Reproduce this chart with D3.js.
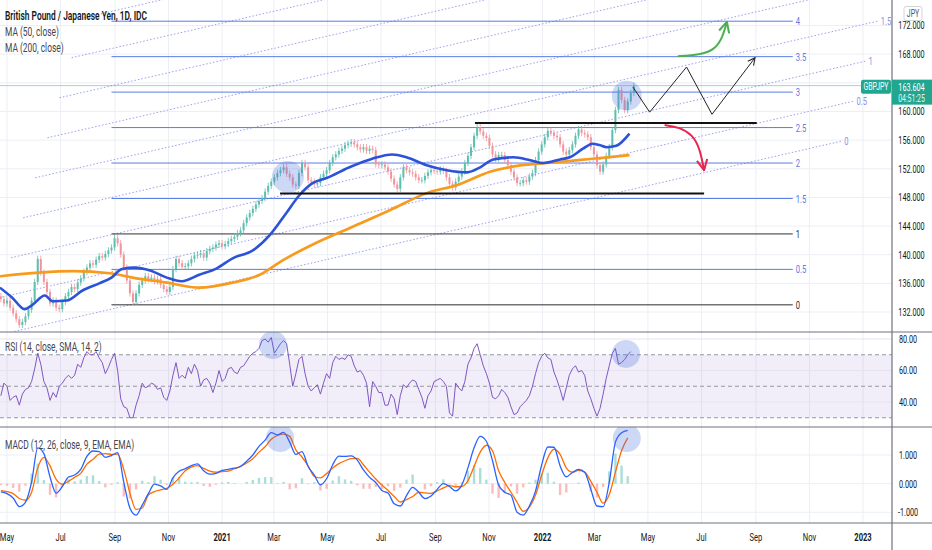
<!DOCTYPE html>
<html>
<head>
<meta charset="utf-8">
<script src="https://cdn.jsdelivr.net/npm/d3@7"></script>
<style>
  body { margin: 0; background: #fff; }
  svg { display: block; font-family: Roboto, "Noto Sans", sans-serif; }
</style>
</head>
<body>
<svg id="chart" width="932" height="550"></svg>
<script>
// ---------- data ----------
// one bar every 3.5 days starting 2020-04-24
const barStartDate = "2020-04-24";
const firstOpen = 134.2;
const closes = [
  133.8, 133.2,
  133.6, 132.6, 131.8, 131.0, 130.2, 130.6, 131.4, 132.3, 133.6, 136.2,
  139.4, 137.5, 136.2, 134.8, 133.2, 133.6, 132.6, 132.4, 133.4, 134.2,
  134.8, 135.5, 135.2, 136.1, 136.7, 137.6, 138.2, 138.8, 138.6, 139.3,
  139.8, 139.6, 140.1, 140.6, 141.0, 142.3, 141.6, 140.0, 138.2, 136.4,
  134.6, 133.4, 134.6, 135.8, 136.4, 137.0, 136.6, 136.8, 136.3, 136.6,
  135.8, 135.2, 134.8, 135.5, 138.0, 139.4, 138.8, 138.3, 138.4, 138.8,
  139.4, 139.9, 140.0, 140.2, 139.6, 140.5, 140.8, 141.0, 141.4, 141.6,
  141.2, 141.5, 141.9, 142.2, 142.5, 143.0, 143.4, 144.4, 145.2, 145.8,
  146.4, 147.0, 147.5, 147.9, 148.8, 149.6, 150.2, 150.8, 151.4, 151.8,
  152.2, 151.3, 150.8, 149.8, 149.6, 151.4, 152.8, 152.2, 150.4, 150.2,
  149.8, 150.0, 150.8, 151.3, 151.8, 152.8, 153.6, 154.0, 154.5, 154.8,
  155.3, 155.5, 155.7, 155.4, 155.0, 154.7, 155.0, 154.5, 154.8, 154.6,
  152.6, 152.5, 152.6, 152.2, 151.6, 150.6, 149.8, 149.2, 150.8, 152.2,
  151.8, 151.5, 151.3, 150.8, 150.4, 150.4, 151.0, 151.5, 151.8, 151.7,
  151.6, 151.9, 151.7, 150.8, 149.9, 149.4, 150.2, 150.9, 151.6, 152.8,
  153.8, 155.0, 156.6, 157.8, 157.2, 156.6, 156.3, 155.2, 154.0, 153.4,
  153.9, 153.9, 153.2, 152.5, 151.6, 150.8, 150.0, 150.0, 150.4, 150.2,
  150.9, 151.4, 153.2, 154.4, 155.4, 156.4, 157.3, 157.0, 156.6, 156.4,
  155.4, 154.4, 154.0, 154.6, 155.4, 156.6, 157.5, 157.0, 156.8, 156.4,
  155.0, 154.0, 152.5, 151.6, 152.6, 153.8, 155.0, 157.4, 160.2, 163.0,
  161.6, 160.2, 161.4, 162.6, 163.6
];
const wick = 0.45;

const ma50 = [
  ["2020-04-23", 135.4], ["2020-05-07", 134.0], ["2020-05-21", 132.4], ["2020-05-30", 133.0],
  ["2020-06-13", 134.3], ["2020-06-22", 133.5], ["2020-07-08", 133.6], ["2020-07-26", 135.0],
  ["2020-08-14", 136.0], ["2020-08-28", 136.8], ["2020-09-09", 138.0], ["2020-09-23", 138.2],
  ["2020-10-11", 137.8], ["2020-10-30", 136.8], ["2020-11-16", 136.3], ["2020-12-06", 137.2],
  ["2020-12-26", 138.1], ["2021-01-13", 139.5], ["2021-02-05", 140.6], ["2021-02-24", 142.7],
  ["2021-03-15", 145.8], ["2021-03-30", 148.3], ["2021-04-14", 150.0], ["2021-04-30", 150.7],
  ["2021-05-26", 152.2], ["2021-06-21", 153.4], ["2021-07-14", 154.0], ["2021-07-30", 153.6],
  ["2021-08-22", 152.5], ["2021-09-14", 151.8], ["2021-10-07", 151.5], ["2021-10-22", 152.2],
  ["2021-11-06", 153.3], ["2021-11-29", 153.6], ["2021-12-18", 153.2], ["2022-01-02", 152.8],
  ["2022-01-21", 153.3], ["2022-02-01", 153.6], ["2022-02-16", 154.8], ["2022-02-27", 155.5],
  ["2022-03-07", 155.3], ["2022-03-15", 155.0], ["2022-03-26", 155.2], ["2022-04-10", 156.9]
];
const ma200 = [
  ["2020-04-23", 137.0], ["2020-06-07", 137.5], ["2020-07-15", 137.7], ["2020-08-26", 137.4],
  ["2020-09-21", 136.8], ["2020-10-30", 136.1], ["2020-12-06", 135.4], ["2021-01-13", 136.1],
  ["2021-02-13", 137.2], ["2021-03-11", 139.2], ["2021-04-19", 141.7], ["2021-05-26", 143.7],
  ["2021-07-11", 146.2], ["2021-08-22", 148.6], ["2021-09-25", 149.7], ["2021-11-03", 151.6],
  ["2021-12-03", 152.4], ["2022-01-17", 152.9], ["2022-02-27", 153.4], ["2022-04-10", 153.9]
];

// RSI on the same 3.5 day grid
const rsi = [
  44, 52, 50, 41, 43, 44, 38, 45, 48, 49,
  53, 61, 71, 64, 53, 49, 41, 46, 43, 50,
  52, 55, 57, 55, 57, 64, 62, 68, 72, 70,
  70, 72, 68, 65, 58, 62, 67, 71, 60, 42,
  37, 36, 30, 30, 38, 44, 52, 49, 50, 52,
  51, 48, 49, 43, 41, 47, 57, 65, 55, 57,
  55, 62, 58, 64, 60, 50, 54, 55, 52, 46,
  52, 60, 53, 55, 61, 62, 59, 58, 62, 63,
  66, 69, 71, 72, 74, 79, 80, 78, 81, 71,
  74, 77, 79, 77, 64, 50, 58, 67, 69, 58,
  50, 47, 49, 51, 45, 52, 58, 55, 65, 69,
  67, 68, 67, 70, 69, 63, 59, 60, 57, 52,
  37, 53, 50, 46, 46, 38, 38, 45, 42, 32,
  44, 51, 49, 52, 54, 53, 48, 43, 36, 44,
  47, 53, 54, 55, 53, 50, 33, 31, 52, 49,
  47, 53, 64, 68, 74, 77, 70, 63, 58, 52,
  43, 42, 44, 48, 46, 43, 37, 32, 33, 37,
  39, 41, 44, 50, 58, 65, 69, 71, 68, 67,
  59, 54, 48, 41, 49, 57, 61, 63, 59, 60,
  57, 47, 42, 36, 31, 36, 45, 55, 63, 71,
  74, 64, 65, 67, 70, 72
];

// MACD, one value per week starting 2020-04-24
const macd = [
  -0.29, -0.35, -0.50, -0.80, -0.65, 0.05, 1.25, 1.05, 0.23, -0.33,
  -0.10, 0.23, 0.30, 0.50, 0.95, 1.14, 1.12, 0.92, 0.98, 1.08,
  0.05, -0.85, -1.10, -0.75, -0.35, -0.02, -0.08, -0.20, 0.20, 0.43,
  0.52, 0.63, 0.69, 0.45, 0.33, 0.36, 0.46, 0.50, 0.54, 0.60,
  0.78, 1.00, 1.30, 1.52, 1.78, 1.70, 1.79, 1.45, 1.02, 1.12,
  0.60, 0.30, -0.04, 0.17, 0.66, 0.96, 0.95, 0.97, 0.82, 0.48,
  0.22, 0.04, -0.24, -0.33, -0.70, -0.78, -0.42, -0.13, -0.30, -0.52,
  -0.43, -0.20, 0.00, -0.10, -0.25, -0.05, 0.55, 1.25, 1.65, 1.48,
  0.80, -0.05, -0.30, -0.40, -1.00, -1.10, -0.78, -0.26, 0.65, 1.28,
  1.27, 0.62, 0.24, 0.39, 0.50, 0.40, -0.20, -0.78, -0.80, 0.05,
  1.45, 1.78, 1.86
];
const signal = [
  -0.24, -0.28, -0.35, -0.52, -0.58, -0.30, 0.55, 0.92, 0.62, 0.15,
  -0.02, 0.08, 0.22, 0.36, 0.68, 0.85, 1.03, 1.05, 1.02, 1.03,
  0.50, -0.33, -0.90, -0.85, -0.40, -0.28, -0.22, -0.16, -0.02, 0.20,
  0.45, 0.58, 0.63, 0.53, 0.44, 0.40, 0.42, 0.44, 0.52, 0.60,
  0.72, 0.87, 1.10, 1.29, 1.55, 1.68, 1.73, 1.65, 1.18, 0.93,
  0.62, 0.25, 0.20, 0.35, 0.55, 0.70, 0.80, 0.87, 0.88, 0.66,
  0.40, 0.16, -0.05, -0.24, -0.45, -0.64, -0.56, -0.45, -0.30, -0.32,
  -0.34, -0.25, -0.15, -0.07, -0.11, -0.10, 0.10, 0.60, 1.10, 1.34,
  1.15, 0.45, 0.04, -0.30, -0.65, -0.97, -0.82, -0.40, 0.30, 0.90,
  1.20, 1.02, 0.55, 0.40, 0.46, 0.40, 0.08, -0.30, -0.68, -0.38,
  0.40, 1.15, 1.60
];

// axes
const priceTicks = [132, 136, 140, 144, 148, 152, 156, 160, 164, 168, 172];
const rsiTicks = [40, 60, 80];
const rsiDashed = [30, 50, 70];
const macdTicks = [-1, 0, 1];
const timeTicks = ["2020-05-01", "2020-07-01", "2020-09-01", "2020-11-01", "2021-01-01", "2021-03-01",
  "2021-05-01", "2021-07-01", "2021-09-01", "2021-11-01", "2022-01-01", "2022-03-01",
  "2022-05-01", "2022-07-01", "2022-09-01", "2022-11-01", "2023-01-01"];
const timeLabels = ["May", "Jul", "Sep", "Nov", "2021", "Mar", "May", "Jul", "Sep", "Nov",
  "2022", "Mar", "May", "Jul", "Sep", "Nov", "2023"];

// drawings
const fibLevels = [0, 0.5, 1, 1.5, 2, 2.5, 3, 3.5, 4];
const fibPrice0 = 133.0, fibPrice1 = 142.9;
const fibFrom = "2020-08-28", fibTo = "2022-10-13";
const channelLevels = [0, 0.5, 1, 1.5, 2, 2.5, 3, 3.5, 4];
const channelStart = ["2020-04-08", 128.4];
const channelEnd = ["2022-12-09", 155.9];
const channelStepDays = 13.8, channelStepPrice = 5.585;   // per 0.5 level
const srLines = [
  { from: "2021-10-16", to: "2022-09-02", price: 158.4 },
  { from: "2021-03-08", to: "2022-07-04", price: 148.55 }
];
const zigzag = [["2022-04-14", 163.4], ["2022-05-03", 159.9], ["2022-06-14", 166.2], ["2022-07-13", 159.6], ["2022-08-31", 167.5]];
const greenArrow = [["2022-06-04", 167.7], ["2022-06-29", 167.9], ["2022-07-16", 168.6], ["2022-07-25", 170.3], ["2022-07-30", 172.5]];
const redArrow = [["2022-05-20", 158.1], ["2022-06-06", 157.8], ["2022-06-21", 156.7], ["2022-06-29", 154.9], ["2022-07-04", 151.8]];
const priceCircles = [["2021-03-17", 150.85, 16], ["2022-04-07", 162.2, 15]];
const rsiCircles = [["2021-02-28", 76.2, 14], ["2022-04-06", 70.5, 14]];
const macdCircles = [["2021-03-08", 1.59, 14], ["2022-04-07", 1.59, 14]];
const lastPrice = 163.604, countdown = "04:51:25";

// ---------- layout ----------
const axisX = 892;
const panes = { main: [0, 332], rsi: [332, 427], macd: [427, 523] };
const parse = d3.timeParse("%Y-%m-%d");

const x = d3.scaleTime().domain([parse("2020-05-01"), parse("2023-01-01")]).range([7, 863]);
const y = d3.scaleLinear().domain([132, 172]).range([312, 25.5]);
const yRsi = d3.scaleLinear().domain([40, 80]).range([402, 339]);
const yMacd = d3.scaleLinear().domain([-1, 1]).range([512.3, 455]);

const barStart = parse(barStartDate);
const barDates = closes.map((c, i) => d3.timeHour.offset(barStart, i * 84));
const weekDates = macd.map((m, k) => d3.timeDay.offset(barStart, k * 7));

const svg = d3.select("#chart");
const defs = svg.append("defs");
Object.entries(panes).forEach(([k, p]) => {
  defs.append("clipPath").attr("id", "clip-" + k)
    .append("rect").attr("x", 0).attr("y", p[0]).attr("width", axisX).attr("height", p[1] - p[0]);
});
function marker(id, color, size, sw) {
  defs.append("marker").attr("id", id)
    .attr("viewBox", "0 0 10 10").attr("refX", 9).attr("refY", 5)
    .attr("markerWidth", size).attr("markerHeight", size)
    .attr("markerUnits", "userSpaceOnUse").attr("orient", "auto")
    .append("path").attr("d", "M1,1 L9,5 L1,9")
    .attr("fill", "none").attr("stroke", color).attr("stroke-width", sw);
}
marker("arrow-black", "#222", 9, 1.2);
marker("arrow-green", "#4caf50", 13, 1.6);
marker("arrow-red", "#e8244f", 13, 1.6);

// small condensed text like the screenshot
function txt(g, x0, y0, s, o = {}) {
  return g.append("text")
    .attr("transform", `translate(${x0},${y0}) scale(${o.sx || 0.66},1)`)
    .attr("text-anchor", o.anchor || "start")
    .attr("dy", "0.35em")
    .attr("font-size", o.size || 11)
    .attr("font-weight", o.weight || 400)
    .attr("fill", o.color || "#131722")
    .text(s);
}

// ---------- grid ----------
const grid = svg.append("g");
grid.selectAll(".vgrid").data(timeTicks).join("line")
  .attr("x1", d => x(parse(d))).attr("x2", d => x(parse(d)))
  .attr("y1", 0).attr("y2", panes.macd[1])
  .attr("stroke", "#eceff4");
grid.selectAll(".pgrid").data(priceTicks).join("line")
  .attr("x1", 0).attr("x2", axisX).attr("y1", d => y(d)).attr("y2", d => y(d))
  .attr("stroke", "#eceff4");
grid.append("rect").attr("x", 0).attr("width", axisX)
  .attr("y", yRsi(70)).attr("height", yRsi(30) - yRsi(70))
  .attr("fill", "rgba(126,87,194,0.1)");
grid.selectAll(".rgrid").data(rsiTicks).join("line")
  .attr("x1", 0).attr("x2", axisX).attr("y1", d => yRsi(d)).attr("y2", d => yRsi(d))
  .attr("stroke", "#e6e3ef");
grid.selectAll(".rdash").data(rsiDashed).join("line")
  .attr("x1", 0).attr("x2", axisX).attr("y1", d => yRsi(d)).attr("y2", d => yRsi(d))
  .attr("stroke", "#9598a1").attr("stroke-dasharray", "4,3");
grid.selectAll(".mgrid").data(macdTicks).join("line")
  .attr("x1", 0).attr("x2", axisX).attr("y1", d => yMacd(d)).attr("y2", d => yMacd(d))
  .attr("stroke", "#eceff4");

// ---------- main pane ----------
const main = svg.append("g").attr("clip-path", "url(#clip-main)");

// fib channel (dotted, slanted)
channelLevels.forEach(L => {
  const s = L / 0.5;
  const p1 = [d3.timeHour.offset(parse(channelStart[0]), Math.round(s * channelStepDays * 24)), channelStart[1] + s * channelStepPrice];
  const p2 = [d3.timeHour.offset(parse(channelEnd[0]), Math.round(s * channelStepDays * 24)), channelEnd[1] + s * channelStepPrice];
  main.append("line")
    .attr("x1", x(p1[0])).attr("y1", y(p1[1])).attr("x2", x(p2[0])).attr("y2", y(p2[1]))
    .attr("stroke", "#9d9df0").attr("stroke-width", 1).attr("stroke-dasharray", "1.5,2");
  // only the labels whose line end is still on screen
  if (x(p2[0]) < axisX - 8 && y(p2[1]) > 8) {
    txt(main, x(p2[0]) + 1.5, y(p2[1]), String(L), { color: "#8f8fe8", size: 11.5 });
  }
});

// fib levels (horizontal)
fibLevels.forEach(L => {
  const p = fibPrice0 + (fibPrice1 - fibPrice0) * L;
  const dark = L === 0 || L === 1;
  const col = dark ? "#2f2f2f" : "#5a7ce2";
  main.append("line")
    .attr("x1", x(parse(fibFrom))).attr("x2", x(parse(fibTo)))
    .attr("y1", y(p)).attr("y2", y(p))
    .attr("stroke", col).attr("stroke-width", 1);
  txt(main, x(parse(fibTo)) + 3, y(p), String(L), { color: col, size: 11.5 });
});

// last price line
main.append("line").attr("x1", 0).attr("x2", axisX)
  .attr("y1", y(lastPrice)).attr("y2", y(lastPrice))
  .attr("stroke", "#26a69a").attr("stroke-opacity", 0.45);

// candles
const candles = closes.map((c, i) => {
  const o = i ? closes[i - 1] : firstOpen;
  return { date: barDates[i], o, c, h: Math.max(o, c) + wick, l: Math.min(o, c) - wick };
});
const up = "#5dbfae", down = "#f1959d";
main.selectAll(".wick").data(candles).join("line")
  .attr("x1", d => x(d.date)).attr("x2", d => x(d.date))
  .attr("y1", d => y(d.h)).attr("y2", d => y(d.l))
  .attr("stroke", d => d.c >= d.o ? up : down).attr("stroke-width", 0.8);
main.selectAll(".body").data(candles).join("rect")
  .attr("x", d => x(d.date) - 1).attr("width", 2)
  .attr("y", d => y(Math.max(d.o, d.c)))
  .attr("height", d => Math.max(0.8, Math.abs(y(d.o) - y(d.c))))
  .attr("fill", d => d.c >= d.o ? up : down);

// moving averages
const maLine = d3.line().x(d => x(parse(d[0]))).y(d => y(d[1])).curve(d3.curveMonotoneX);
main.append("path").attr("d", maLine(ma200)).attr("fill", "none")
  .attr("stroke", "#f89a1c").attr("stroke-width", 2.6);
main.append("path").attr("d", maLine(ma50)).attr("fill", "none")
  .attr("stroke", "#2c52d8").attr("stroke-width", 2.6);

// support / resistance
main.selectAll(".sr").data(srLines).join("line")
  .attr("x1", d => x(parse(d.from))).attr("x2", d => x(parse(d.to)))
  .attr("y1", d => y(d.price)).attr("y2", d => y(d.price))
  .attr("stroke", "#111").attr("stroke-width", 2);

// highlight circles
main.selectAll(".hc").data(priceCircles).join("circle")
  .attr("cx", d => x(parse(d[0]))).attr("cy", d => y(d[1])).attr("r", d => d[2])
  .attr("fill", "rgba(74,110,224,0.28)");

// scenario arrows
const pathLine = d3.line().x(d => x(parse(d[0]))).y(d => y(d[1]));
main.append("path").attr("d", pathLine(zigzag)).attr("fill", "none")
  .attr("stroke", "#222").attr("stroke-width", 1).attr("marker-end", "url(#arrow-black)");
main.append("path").attr("d", pathLine.curve(d3.curveBasis)(greenArrow)).attr("fill", "none")
  .attr("stroke", "#4caf50").attr("stroke-width", 2).attr("marker-end", "url(#arrow-green)");
main.append("path").attr("d", pathLine.curve(d3.curveBasis)(redArrow)).attr("fill", "none")
  .attr("stroke", "#e8244f").attr("stroke-width", 2).attr("marker-end", "url(#arrow-red)");

// ---------- RSI pane ----------
const rp = svg.append("g").attr("clip-path", "url(#clip-rsi)");
rp.append("path")
  .attr("d", d3.line().x((d, i) => x(barDates[i])).y(d => yRsi(d))(rsi))
  .attr("fill", "none").attr("stroke", "#7e57c2").attr("stroke-width", 1);
rp.selectAll(".rc").data(rsiCircles).join("circle")
  .attr("cx", d => x(parse(d[0]))).attr("cy", d => yRsi(d[1])).attr("r", d => d[2])
  .attr("fill", "rgba(74,110,224,0.28)");

// ---------- MACD pane ----------
const mp = svg.append("g").attr("clip-path", "url(#clip-macd)");
const hist = macd.map((m, k) => ({ date: weekDates[k], v: m - signal[k] }));
mp.selectAll(".hist").data(hist).join("rect")
  .attr("x", d => x(d.date) - 1.2).attr("width", 2.4)
  .attr("y", d => Math.min(yMacd(0), yMacd(d.v)))
  .attr("height", d => Math.abs(yMacd(d.v) - yMacd(0)))
  .attr("fill", d => d.v >= 0 ? "#26a69a" : "#ef5350").attr("fill-opacity", 0.38);
const wl = d3.line().x((d, k) => x(weekDates[k])).y(d => yMacd(d)).curve(d3.curveMonotoneX);
mp.append("path").attr("d", wl(signal)).attr("fill", "none")
  .attr("stroke", "#ff6d00").attr("stroke-width", 1.3);
mp.append("path").attr("d", wl(macd)).attr("fill", "none")
  .attr("stroke", "#2962ff").attr("stroke-width", 1.3);
mp.selectAll(".mc").data(macdCircles).join("circle")
  .attr("cx", d => x(parse(d[0]))).attr("cy", d => yMacd(d[1])).attr("r", d => d[2])
  .attr("fill", "rgba(74,110,224,0.28)");

// ---------- frame, axes, labels ----------
const frame = svg.append("g");
[panes.main[1], panes.rsi[1], panes.macd[1]].forEach(v => {
  frame.append("line").attr("x1", 0).attr("x2", 932).attr("y1", v).attr("y2", v)
    .attr("stroke", "#6f737d").attr("stroke-width", 1.2);
});
frame.append("line").attr("x1", axisX).attr("x2", axisX).attr("y1", 0).attr("y2", 550)
  .attr("stroke", "#6f737d").attr("stroke-width", 1.2);

const lab = svg.append("g");
const py = y(lastPrice);
// the price tag hides the tick label under it
priceTicks.filter(t => Math.abs(y(t) - py) > 14)
  .forEach(t => txt(lab, 911.5, y(t), d3.format(".3f")(t), { anchor: "middle", size: 11 }));
rsiTicks.forEach(t => txt(lab, 908, yRsi(t), d3.format(".2f")(t), { anchor: "middle", size: 11 }));
macdTicks.forEach(t => txt(lab, 908, yMacd(t), d3.format(".3f")(t).replace("−", "-"), { anchor: "middle", size: 11 }));
timeTicks.forEach((t, i) => txt(lab, x(parse(t)), 537, timeLabels[i],
  { anchor: "middle", size: 11.5, weight: /^\d/.test(timeLabels[i]) ? 700 : 400 }));

// legends
txt(lab, 5, 16, "British Pound / Japanese Yen, 1D, IDC", { size: 12, weight: 600, sx: 0.7 });
txt(lab, 5, 32, "MA (50, close)", { size: 12, color: "#434651", sx: 0.7 });
txt(lab, 5, 48, "MA (200, close)", { size: 12, color: "#434651", sx: 0.7 });
txt(lab, 5, 347, "RSI (14, close, SMA, 14, 2)", { size: 12, color: "#434651", sx: 0.7 });
txt(lab, 5, 445, "MACD (12, 26, close, 9, EMA, EMA)", { size: 12, color: "#434651", sx: 0.7 });

// currency badge
lab.append("rect").attr("x", 904).attr("y", 6.5).attr("width", 18).attr("height", 14).attr("rx", 2)
  .attr("fill", "#fff").attr("stroke", "#d1d4dc");
txt(lab, 913, 13.5, "JPY", { anchor: "middle", size: 10.5, color: "#50535e" });

// last price tags
lab.append("rect").attr("x", 861).attr("y", py - 6).attr("width", 30).attr("height", 14)
  .attr("rx", 2).attr("fill", "#22a68f");
txt(lab, 876, py + 1, "GBPJPY", { anchor: "middle", size: 10.5, color: "#fff" });
lab.append("rect").attr("x", 892).attr("y", py - 6).attr("width", 40).attr("height", 25)
  .attr("fill", "#22a68f");
txt(lab, 911.5, py + 1.5, d3.format(".3f")(lastPrice), { anchor: "middle", size: 11, color: "#fff" });
txt(lab, 911.5, py + 13, countdown, { anchor: "middle", size: 10.5, color: "#e6f5f2" });
</script>
</body>
</html>
